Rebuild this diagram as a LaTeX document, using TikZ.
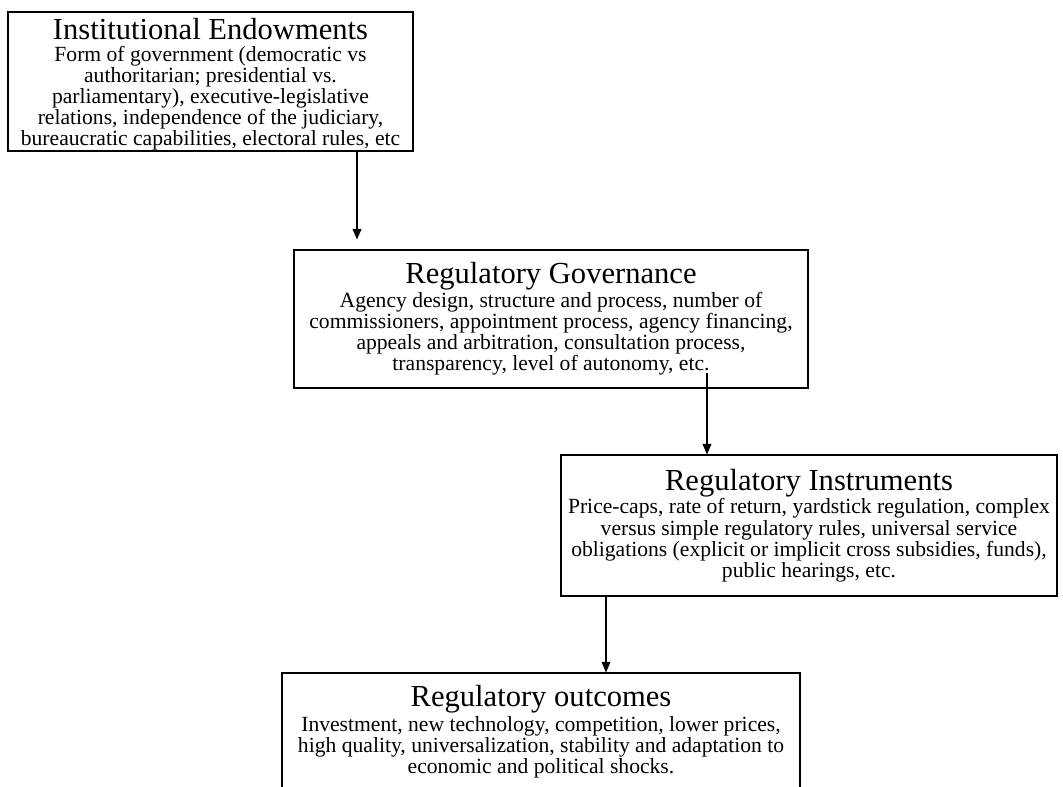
\documentclass[tikz,border=0pt]{standalone}
\usepackage{fontspec}
\setmainfont{Liberation Serif}
\usepackage{tikz}
\usetikzlibrary{arrows.meta, positioning, shapes}

\newcommand{\boxtitle}[1]{{\fontsize{17.4}{20}\selectfont #1}}

\begin{document}
\begin{tikzpicture}[node distance=1cm]
            \tikzstyle{block} = [rectangle, draw, line width=0.6pt, align=center, inner xsep=2pt, inner ysep=0pt, font=\fontsize{12.3}{12}\selectfont]
            \tikzstyle{line} = [draw, line width=0.6pt, -{Triangle[width=5pt, length=6pt]}]

            \useasboundingbox (0,0) rectangle (21.26,-15.72);
            \clip (0,0) rectangle (21.26,-15.72);

            % 定义节点
            \node[block, minimum width=8.1cm, minimum height=2.78cm] (ie) at (4.21,-1.63) {\boxtitle{\rule{0pt}{15pt}Institutional Endowments}\\[0.5pt] Form of government (democratic vs\\ authoritarian; presidential vs.\\ parliamentary), executive-legislative\\ relations, independence of the judiciary,\\ bureaucratic capabilities, electoral rules, etc};
            \node[block, minimum width=10.28cm, minimum height=2.76cm, below of=ie, xshift=6.81cm, yshift=-3.75cm] (rg) {\boxtitle{Regulatory Governance}\\[0pt] Agency design, structure and process, number of\\ commissioners, appointment process, agency financing,\\ appeals and arbitration, consultation process,\\ transparency, level of autonomy, etc.};
            \node[block, minimum width=9.92cm, minimum height=2.82cm, below of=rg, xshift=5.16cm, yshift=-3.13cm] (ri) {\boxtitle{Regulatory Instruments}\\[0pt] Price-caps, rate of return, yardstick regulation, complex\\ versus simple regulatory rules, universal service\\ obligations (explicit or implicit cross subsidies, funds),\\ public hearings, etc.};
            \node[block, minimum width=10.36cm, minimum height=2.35cm, below of=ri, xshift=-5.36cm, yshift=-3.125cm] (ro) {\boxtitle{Regulatory outcomes}\\[0.5pt] Investment, new technology, competition, lower prices,\\ high quality, universalization, stability and adaptation to\\ economic and political shocks.};

            % 添加箭头
            \path [line, shorten >=0.2cm] ([xshift=2.93cm]ie.south) -- ([xshift=2.93cm]ie.south |- rg.north);
            \path [line] ([xshift=3.12cm, yshift=0.32cm]rg.south) -- ([xshift=3.12cm]rg.south |- ri.north);
            \path [line] ([xshift=-4.06cm]ri.south) -- ([xshift=-4.06cm]ri.south |- ro.north);
        \end{tikzpicture}
\end{document}
